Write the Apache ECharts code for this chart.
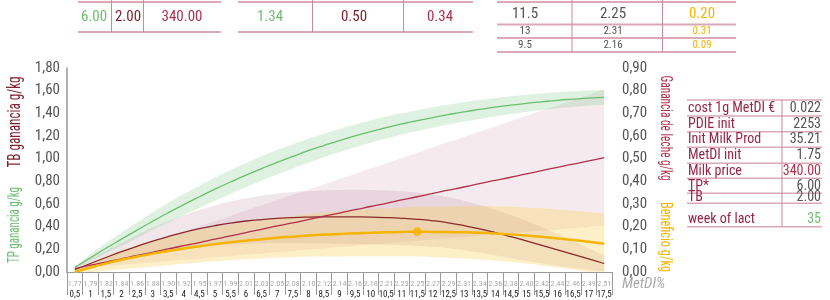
<!DOCTYPE html>
<html><head><meta charset="utf-8">
<script src="https://cdn.jsdelivr.net/npm/echarts@6/dist/echarts.min.js"></script>
<style>html,body{margin:0;padding:0;background:#fff}#c{width:830px;height:300px}</style>
</head><body><div id="c"></div>
<script>
// ---------- DATA ----------
const weeks = ['0,5','1','1,5','2','2,5','3','3,5','4','4,5','5','5,5','6','6,5','7','7,5','8','8,5','9','9,5','10','10,5','11','11,5','12','12,5','13','13,5','14','14,5','15','15,5','16','16,5','17','17,5'];
const metdi = ['1.77','1.79','1.82','1.84','1.86','1.88','1.90','1.92','1.95','1.97','1.99','2.01','2.03','2.05','2.08','2.10','2.12','2.14','2.16','2.18','2.21','2.23','2.25','2.27','2.29','2.31','2.34','2.36','2.38','2.40','2.42','2.44','2.46','2.49','2.51'];

// TP ganancia g/kg (left axis)
const tpGain = [0.04,0.125,0.209,0.29,0.37,0.448,0.523,0.595,0.664,0.731,0.794,0.855,0.913,0.968,1.02,1.07,1.116,1.16,1.201,1.239,1.274,1.306,1.336,1.363,1.389,1.413,1.434,1.454,1.472,1.488,1.502,1.515,1.525,1.534,1.54];
const tpLo   = [0.03,0.095,0.164,0.232,0.301,0.37,0.437,0.502,0.566,0.629,0.689,0.748,0.805,0.86,0.913,0.964,1.012,1.058,1.101,1.141,1.178,1.212,1.244,1.273,1.301,1.327,1.351,1.373,1.394,1.412,1.429,1.444,1.456,1.467,1.475];
const tpHi   = [0.05,0.155,0.254,0.348,0.439,0.526,0.609,0.688,0.762,0.833,0.899,0.962,1.021,1.076,1.127,1.176,1.22,1.262,1.301,1.337,1.37,1.4,1.428,1.453,1.477,1.499,1.517,1.535,1.55,1.564,1.575,1.586,1.594,1.601,1.605];

// TB ganancia g/kg (left axis)
const tbGain = [0.02,0.075,0.128,0.179,0.227,0.272,0.313,0.35,0.382,0.409,0.432,0.45,0.463,0.473,0.48,0.484,0.486,0.487,0.486,0.484,0.48,0.474,0.465,0.452,0.434,0.41,0.381,0.348,0.312,0.274,0.235,0.195,0.155,0.115,0.075];
const tbLo   = [0.01,0.04,0.068,0.099,0.127,0.152,0.178,0.2,0.217,0.231,0.242,0.25,0.253,0.255,0.255,0.254,0.252,0.25,0.246,0.244,0.24,0.236,0.23,0.222,0.209,0.192,0.171,0.148,0.122,0.099,0.077,0.055,0.035,0.02,0.005];
const tbHi   = [0.03,0.11,0.188,0.259,0.327,0.392,0.448,0.5,0.547,0.587,0.622,0.65,0.673,0.691,0.705,0.714,0.72,0.724,0.726,0.724,0.72,0.712,0.7,0.682,0.659,0.628,0.591,0.548,0.502,0.449,0.393,0.335,0.275,0.21,0.145];

// Ganancia de leche g/kg (right axis)
const milkGain = [0.015,0.03,0.044,0.058,0.073,0.087,0.102,0.116,0.13,0.145,0.159,0.174,0.188,0.203,0.217,0.231,0.246,0.26,0.275,0.289,0.303,0.318,0.332,0.347,0.361,0.375,0.39,0.404,0.418,0.433,0.447,0.462,0.476,0.49,0.505];
const milkLo   = [0.015,0.021,0.026,0.032,0.038,0.043,0.049,0.054,0.059,0.066,0.071,0.077,0.082,0.088,0.093,0.099,0.105,0.11,0.116,0.121,0.127,0.133,0.138,0.144,0.149,0.154,0.161,0.166,0.171,0.177,0.182,0.188,0.194,0.199,0.205];
const milkHi   = [0.015,0.039,0.062,0.084,0.108,0.131,0.155,0.178,0.201,0.224,0.247,0.271,0.294,0.318,0.341,0.363,0.387,0.41,0.434,0.457,0.479,0.503,0.526,0.55,0.573,0.596,0.619,0.642,0.665,0.689,0.712,0.736,0.758,0.781,0.805];

// Beneficio g/kg (right axis)
const benefit   = [0.0,0.02,0.038,0.054,0.068,0.081,0.093,0.104,0.114,0.123,0.131,0.138,0.145,0.151,0.156,0.161,0.165,0.168,0.171,0.173,0.175,0.1765,0.178,0.177,0.176,0.175,0.173,0.17,0.166,0.161,0.155,0.148,0.141,0.133,0.125];
const benefitLo = [0.0,0.0,0.006,0.012,0.018,0.024,0.03,0.036,0.042,0.047,0.052,0.056,0.06,0.063,0.065,0.067,0.068,0.068,0.069,0.069,0.069,0.069,0.068,0.065,0.062,0.059,0.055,0.05,0.044,0.037,0.029,0.02,0.011,0.001,0.0];
const benefitHi = [0.005,0.04,0.07,0.096,0.118,0.138,0.156,0.172,0.186,0.199,0.21,0.22,0.23,0.239,0.247,0.255,0.262,0.268,0.273,0.277,0.281,0.285,0.288,0.289,0.29,0.291,0.291,0.29,0.288,0.285,0.281,0.276,0.271,0.265,0.26];

const optimumWeek = '11,5';

// tables
const topTable1 = ['6.00','2.00','340.00'];
const topTable2 = ['1.34','0.50','0.34'];
const topTable3 = [['11.5','2.25','0.20'],['13','2.31','0.31'],['9.5','2.16','0.09']];
const paramLabels = ['cost 1g MetDI €','PDIE init','Init Milk Prod','MetDI init','Milk price','TP*','TB','week of lact'];
const paramValues = ['0.022','2253','35.21','1.75','340.00','6.00','2.00','35'];

// ---------- STYLE ----------
const FONT = "'Liberation Sans Narrow','Roboto Condensed','DejaVu Sans Condensed',sans-serif";
const C_GREEN = '#6cbf6e', C_TB = '#7e2230', C_MILK = '#b0304c', C_YEL = '#f5b400', C_LBL = '#9a2445', C_GRAY = '#555';
const C_RULE = '#dba9b5', C_VRULE = '#c98b9b';

const chart = echarts.init(document.getElementById('c'), null, {renderer: 'canvas'});
const mctx = document.createElement('canvas').getContext('2d');
function measure(t, font) { mctx.font = font; return mctx.measureText(t).width; }

function band(name, lo, hi, color, yAxisIndex) {
  return [
    {type: 'line', name: name + '_lo', stack: name, data: lo, yAxisIndex, symbol: 'none', smooth: true,
     lineStyle: {width: 0, opacity: 0}, silent: true, z: 1},
    {type: 'line', name: name + '_band', stack: name, data: hi.map((v, i) => +(v - lo[i]).toFixed(4)), yAxisIndex,
     symbol: 'none', smooth: true, lineStyle: {width: 0, opacity: 0}, areaStyle: {color: color, opacity: 1}, silent: true, z: 1}
  ];
}
function line(name, data, color, width, yAxisIndex) {
  return {type: 'line', name, data, yAxisIndex, symbol: 'none', smooth: true, lineStyle: {color, width}, itemStyle: {color}, z: 5};
}

const optIdx = weeks.indexOf(optimumWeek);

// graphics
const g = [];
function hline(x1, x2, y, color, w) { g.push({type: 'line', shape: {x1, y1: y, x2, y2: y}, style: {stroke: color, lineWidth: w}, silent: true}); }
function vline(x, y1, y2, color, w) { g.push({type: 'line', shape: {x1: x, y1, x2: x, y2}, style: {stroke: color, lineWidth: w}, silent: true}); }
function txt(x, y, t, fill, size, align, extra) {
  const font = (extra && extra.italic ? 'italic ' : '') + size + 'px ' + FONT;
  const el = {type: 'text', x, y, style: {text: t, fill, font, textAlign: align || 'center', textVerticalAlign: 'middle', align: align || 'center', verticalAlign: 'middle'}, silent: true, z: 10};
  if (extra && extra.rotation) el.rotation = extra.rotation;
  if (extra && extra.len) { const s = extra.len / measure(t, font); el.scaleX = s; }
  g.push(el);
}

// top table 1
hline(78, 221, 2, C_RULE, 2); hline(78, 221, 32, C_RULE, 2);
vline(111.5, 0, 32, C_VRULE, 1); vline(143.5, 0, 32, C_VRULE, 1);
txt(94, 17, topTable1[0], C_GREEN, 15); txt(128, 17, topTable1[1], C_TB, 15); txt(182, 17, topTable1[2], C_MILK, 15);
// top table 2
hline(238, 473, 2, C_RULE, 2); hline(238, 473, 32, C_RULE, 2);
vline(312.5, 0, 32, C_VRULE, 1); vline(403.5, 0, 32, C_VRULE, 1);
txt(270, 17, topTable2[0], C_GREEN, 15); txt(354, 17, topTable2[1], C_TB, 15); txt(440, 17, topTable2[2], C_MILK, 15);
// top table 3
hline(497, 736, 2, C_RULE, 2); hline(497, 736, 24.5, C_RULE, 2); hline(497, 736, 38, C_RULE, 2); hline(497, 736, 52, C_RULE, 2);
vline(572, 0, 52, C_VRULE, 1); vline(662.5, 0, 52, C_VRULE, 1);
const t3y = [14.5, 31.5, 45], t3s = [15, 11, 11], t3x = [525, 613, 702];
topTable3.forEach((row, r) => row.forEach((v, c) => txt(t3x[c], t3y[r], v, c === 2 ? C_YEL : C_GRAY, t3s[r])));

// right parameter table
const prLines = [100, 116, 131.7, 147.3, 163.3, 178.3, 193.3, 203.3, 226.7];
prLines.forEach(y => hline(687, 822, y, C_RULE, 1.5));
vline(782, 100, 226.7, C_VRULE, 1);
const prY = [108, 124, 139.5, 155.3, 171, 186, 197.5, 219];
paramLabels.forEach((l, i) => {
  txt(688, prY[i], l, C_LBL, 14, 'left');
  const col = i === 4 ? C_MILK : (i === 7 ? C_GREEN : C_GRAY);
  txt(821, prY[i], paramValues[i], col, 14, 'right');
});

// axis names
txt(15, 225, 'TP ganancia g/kg', C_GREEN, 16, 'center', {rotation: Math.PI / 2, len: 76});
txt(15, 122, 'TB ganancia g/kg', C_TB, 18, 'center', {rotation: Math.PI / 2, len: 91});
txt(665, 128, 'Ganancia de leche g/kg', C_MILK, 16, 'center', {rotation: -Math.PI / 2, len: 105});
txt(665, 237, 'Beneficio g/kg', C_YEL, 16, 'center', {rotation: -Math.PI / 2, len: 70});
txt(622, 284, 'MetDI%', '#aaa', 15, 'left', {italic: true});

const series = [].concat(
  band('milk', milkLo, milkHi, 'rgba(190,120,150,0.15)', 1),
  band('tb', tbLo, tbHi, 'rgba(150,70,100,0.13)', 0),
  band('ben', benefitLo, benefitHi, 'rgba(250,205,80,0.32)', 1),
  band('tp', tpLo, tpHi, 'rgba(110,190,120,0.22)', 0),
  [line('TP ganancia', tpGain, C_GREEN, 1.3, 0),
   line('TB ganancia', tbGain, '#8a2a2c', 1.3, 0),
   line('Ganancia de leche', milkGain, C_MILK, 1.3, 1),
   line('Beneficio', benefit, C_YEL, 2.5, 1),
   {type: 'scatter', name: 'optimo', yAxisIndex: 1, data: [[optIdx, benefit[optIdx]]], symbol: 'circle', symbolSize: 9,
    itemStyle: {color: C_YEL}, z: 6}]
);

chart.setOption({
  animation: false,
  textStyle: {fontFamily: FONT},
  grid: {left: 67, right: 218, top: 68, bottom: 28, containLabel: false},
  xAxis: [
    {type: 'category', data: metdi, position: 'bottom', offset: 5, boundaryGap: true,
     axisLine: {show: true, lineStyle: {color: '#999', width: 1}},
     axisTick: {show: true, interval: 0, length: 23, lineStyle: {color: '#999', width: 1}},
     axisLabel: {interval: 0, fontSize: 8, color: '#aaa', margin: 3, fontFamily: FONT},
     splitLine: {show: false}},
    {type: 'category', data: weeks, position: 'bottom', offset: 16, boundaryGap: true,
     axisLine: {show: true, lineStyle: {color: '#999', width: 1}},
     axisTick: {show: false},
     axisLabel: {interval: 0, fontSize: 9, color: '#222', margin: 2, fontFamily: FONT},
     splitLine: {show: false}}
  ],
  yAxis: [
    {type: 'value', min: 0, max: 1.8, interval: 0.2, position: 'left',
     axisLine: {show: true, lineStyle: {color: '#999', width: 1.5}}, axisTick: {show: false}, splitLine: {show: false},
     axisLabel: {fontSize: 15, color: C_GRAY, margin: 7, fontFamily: FONT, formatter: v => v.toFixed(2).replace('.', ',')}},
    {type: 'value', min: 0, max: 0.9, interval: 0.1, position: 'right',
     axisLine: {show: false}, axisTick: {show: false}, splitLine: {show: false},
     axisLabel: {fontSize: 15, color: C_GRAY, margin: 10, fontFamily: FONT, formatter: v => v.toFixed(2).replace('.', ',')}}
  ],
  series,
  graphic: g
});
</script></body></html>
